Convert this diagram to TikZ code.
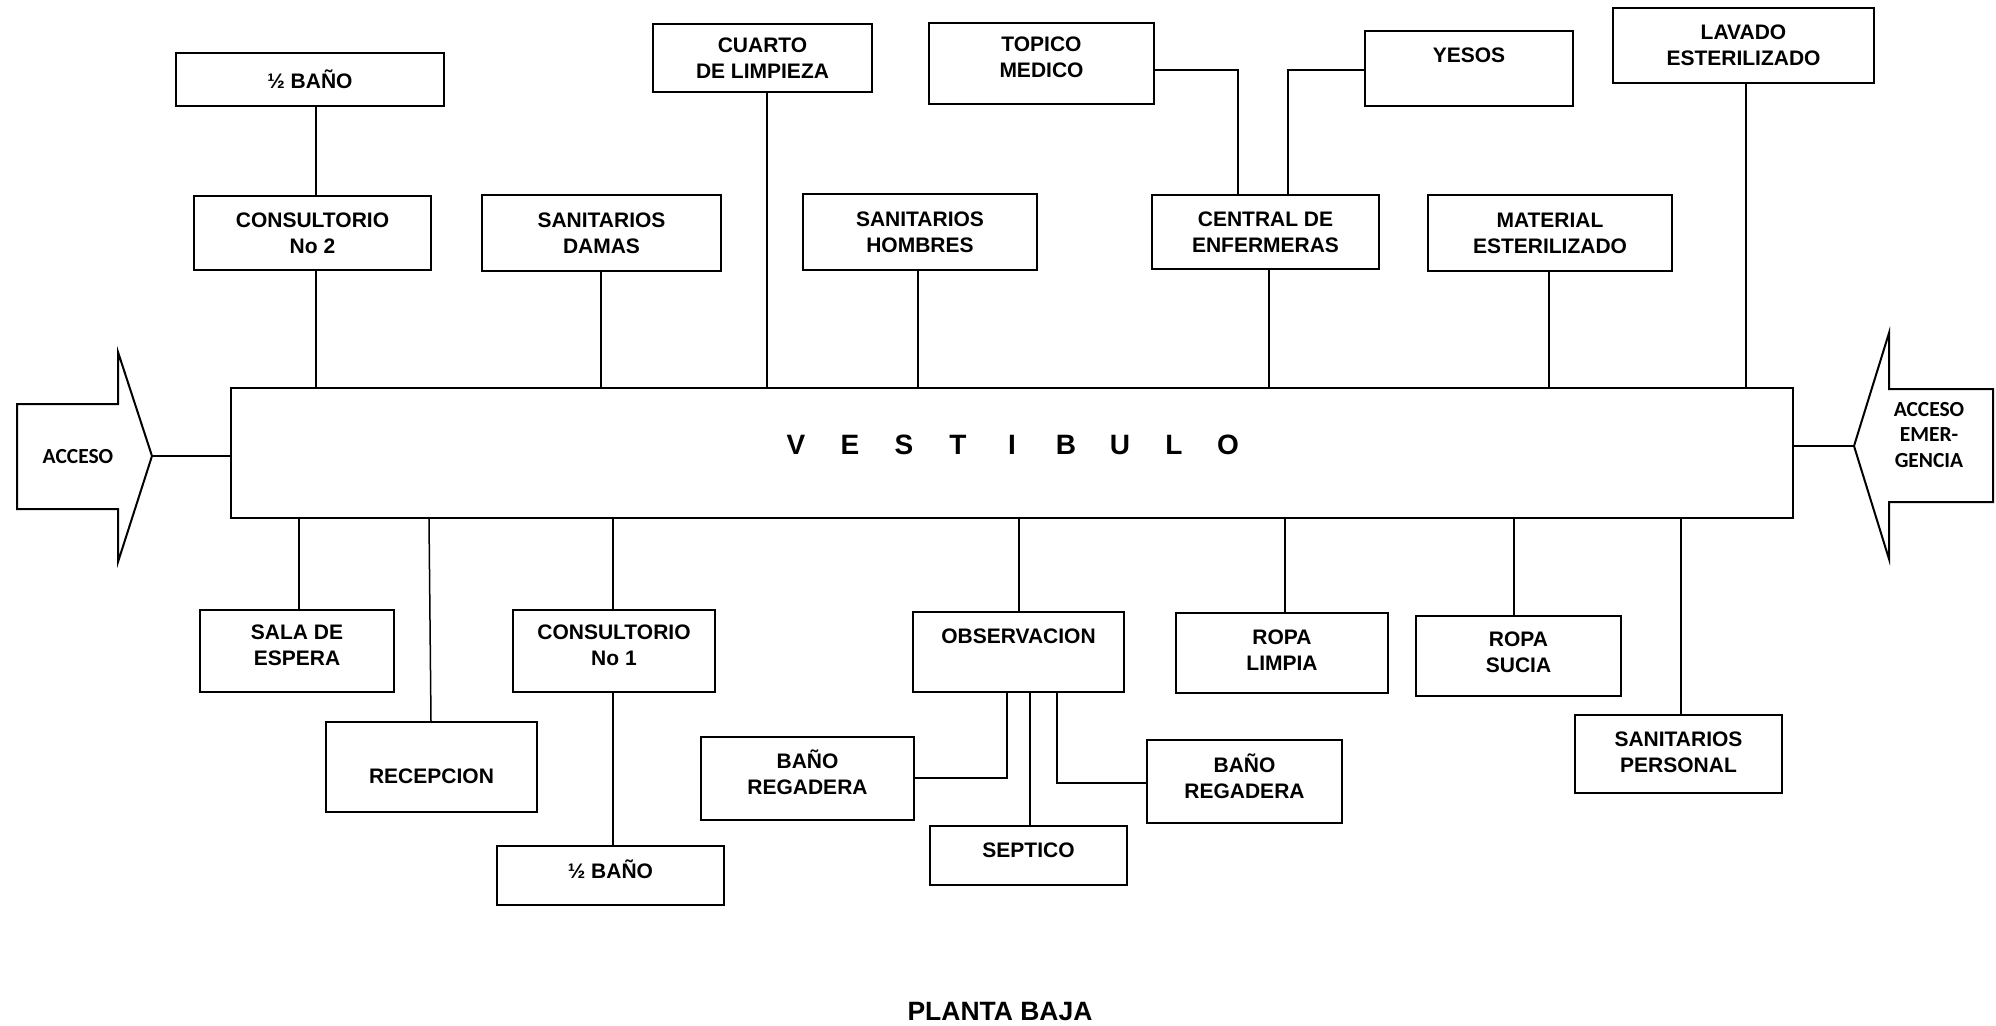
\documentclass[tikz,border=0pt]{standalone}
\usepackage{fontspec}
\setmainfont{Liberation Sans}
\newfontfamily\calibfont{Carlito}
\usetikzlibrary{calc}

\tikzset{
  room/.style={draw, rectangle, line width=0.8pt, inner sep=0pt},
  lbl/.style={font=\bfseries\fontsize{8.4}{10.4}\selectfont, align=center, inner sep=0pt},
  link/.style={line width=0.6pt},
  accesslbl/.style={font=\calibfont\bfseries\fontsize{8.6}{10.2}\selectfont, align=center, inner sep=0pt},
}

% \roombox[text shift]{name}{x1}{y1}{x2}{y2}{text}  (coordinates in pixels)
\newcommand\roombox[7][0]{%
  \pgfmathsetmacro\roomw{(#5-#3)*0.4}%
  \pgfmathsetmacro\roomh{(#6-#4)*0.4}%
  \node[room, minimum width=\roomw pt, minimum height=\roomh pt,
        label={[lbl, yshift={-(#1)*0.4pt}]center:{#7}}]
        (#2) at ({(#3+#5)/2},{(#4+#6)/2}) {};%
}
\newcommand\vletter[1]{\makebox[21.6pt]{#1}}

\begin{document}
\begin{tikzpicture}[x=0.4pt, y=-0.4pt]
\useasboundingbox (0,0) rectangle (1996,1026);

% central hall
\node[room, minimum width=624.8pt, minimum height=52pt,
      label={[font=\bfseries\fontsize{11.2}{13}\selectfont, inner sep=0pt, yshift=3.2pt]center:{%
        \vletter{V}\vletter{E}\vletter{S}\vletter{T}\vletter{I}\vletter{B}\vletter{U}\vletter{L}\vletter{O}}}]
      (vest) at (1012,453) {};

% rooms above the hall
\roombox{banoA}{176}{53}{444}{106}{½ BAÑO}
\roombox{cuarto}{653}{24}{872}{92}{CUARTO\\DE LIMPIEZA}
\roombox{cons2}{194}{196}{431}{270}{CONSULTORIO\\No 2}
\roombox{damas}{482}{195}{721}{271}{SANITARIOS\\DAMAS}
\roombox{hombres}{803}{194}{1037}{270}{SANITARIOS\\HOMBRES}
\roombox[-6]{topico}{929}{23}{1154}{104}{TOPICO\\MEDICO}
\roombox[-13]{yesos}{1365}{31}{1573}{106}{YESOS}
\roombox{lavado}{1613}{8}{1874}{83}{LAVADO\\ESTERILIZADO}
\roombox{central}{1152}{195}{1379}{269}{CENTRAL DE\\ENFERMERAS}
\roombox{matest}{1428}{195}{1672}{271}{MATERIAL\\ESTERILIZADO}

% rooms below the hall
\roombox[-6]{sala}{200}{610}{394}{692}{SALA DE\\ESPERA}
\roombox[9]{recep}{326}{722}{537}{812}{RECEPCION}
\roombox[-6]{cons1}{513}{610}{715}{692}{CONSULTORIO\\No 1}
\roombox[-6]{banoB}{497}{846}{724}{905}{½ BAÑO}
\roombox[-16]{obs}{913}{612}{1124}{692}{OBSERVACION}
\roombox[-6]{regL}{701}{737}{914}{820}{BAÑO\\REGADERA}
\roombox[-5]{sept}{930}{826}{1127}{885}{SEPTICO}
\roombox[-5]{regR}{1147}{740}{1342}{823}{BAÑO\\REGADERA}
\roombox[-3]{ropaL}{1176}{613}{1388}{693}{ROPA\\LIMPIA}
\roombox[-4]{ropaS}{1416}{616}{1621}{696}{ROPA\\SUCIA}
\roombox[-2]{sanP}{1575}{715}{1782}{793}{SANITARIOS\\PERSONAL}

% entrance arrows
\draw[line width=0.8pt] (17,404) -- (118,404) -- (118,352) -- (152,456)
  coordinate (accLtip) -- (118,562) -- (118,509) -- (17,509) -- cycle;
\node[accesslbl] (accL) at (78,457) {ACCESO};
\draw[line width=0.8pt] (1993,389) -- (1889,389) -- (1889,333) -- (1854,446)
  coordinate (accRtip) -- (1889,559) -- (1889,502) -- (1993,502) -- cycle;
\node[accesslbl] (accR) at (1929,435) {ACCESO\\EMER-\\GENCIA};

\draw[link] (accLtip) -- (vest.west |- accLtip);
\draw[link] (accRtip) -- (vest.east |- accRtip);

% links above the hall
\draw[link] (banoA.south -| 316,0) -- (cons2.north -| 316,0);
\draw[link] (cons2.south -| 316,0) -- (vest.north -| 316,0);
\draw[link] (damas.south -| 601,0) -- (vest.north -| 601,0);
\draw[link] (cuarto.south -| 767,0) -- (vest.north -| 767,0);
\draw[link] (hombres.south -| 918,0) -- (vest.north -| 918,0);
\draw[link] (topico.east |- 0,70) -| (central.north -| 1238,0);
\draw[link] (yesos.west |- 0,70) -| (central.north -| 1288,0);
\draw[link] (central.south -| 1269,0) -- (vest.north -| 1269,0);
\draw[link] (matest.south -| 1549,0) -- (vest.north -| 1549,0);
\draw[link] (lavado.south -| 1746,0) -- (vest.north -| 1746,0);

% links below the hall
\draw[link] (vest.south -| 299,0) -- (sala.north -| 299,0);
\draw[link] (vest.south -| 429,0) -- (recep.north -| 431,0);
\draw[link] (vest.south -| 613,0) -- (cons1.north -| 613,0);
\draw[link] (cons1.south -| 613,0) -- (banoB.north -| 613,0);
\draw[link] (vest.south -| 1019,0) -- (obs.north -| 1019,0);
\draw[link] (obs.south -| 1007,0) |- (regL.east |- 0,778);
\draw[link] (obs.south -| 1030,0) -- (sept.north -| 1030,0);
\draw[link] (obs.south -| 1057,0) |- (regR.west |- 0,783);
\draw[link] (vest.south -| 1285,0) -- (ropaL.north -| 1285,0);
\draw[link] (vest.south -| 1514,0) -- (ropaS.north -| 1514,0);
\draw[link] (vest.south -| 1681,0) -- (sanP.north -| 1681,0);

% caption
\node[font=\bfseries\fontsize{10.6}{12}\selectfont, inner sep=0pt] (planta) at (1000,1012) {PLANTA BAJA};
\end{tikzpicture}
\end{document}
